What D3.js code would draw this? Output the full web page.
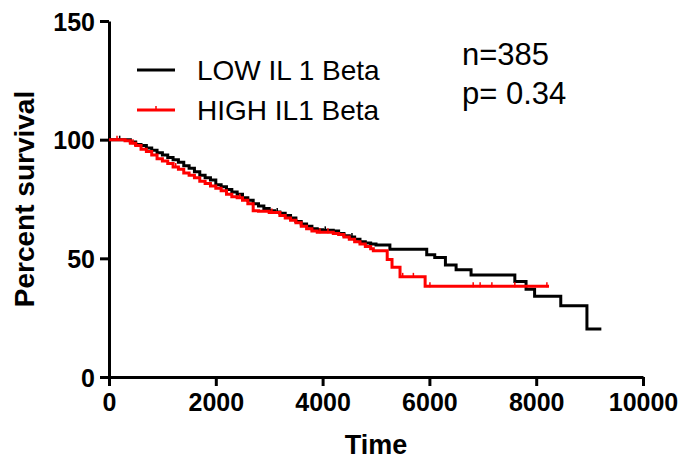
<!DOCTYPE html>
<html lang="en">
<head>
<meta charset="UTF-8">
<script src="https://d3js.org/d3.v7.min.js"></script>
<title>Kaplan-Meier IL1 Beta</title>
<style>
  body { margin: 0; background: #fff; }
  text { font-family: "Liberation Sans", Arial, sans-serif; }
</style>
</head>
<body>
<svg width="682" height="460"></svg>
<script>
    // survival curves: [time, percent]
    const lowTimes  = [0, 250, 400, 500, 600, 700, 800, 900, 1000, 1100, 1200, 1300, 1400, 1500, 1600, 1700, 1800, 1900, 2000, 2100, 2200, 2300, 2400, 2500, 2600, 2700, 2800, 2900, 3000, 3100, 3200, 3300, 3400, 3500, 3600, 3700, 3800, 3900, 4000, 4200, 4300, 4400, 4500, 4600, 4700, 4800, 4900, 5000, 5260, 5950, 6100, 6300, 6500, 6780, 7600, 7810, 7970, 8460, 8950, 9220];
    const lowValues = [100, 100, 99, 98, 97.5, 96.5, 95.5, 94.5, 93.5, 92.5, 91.5, 90.5, 89, 88, 86.5, 85, 84, 83, 81, 80.2, 79, 78, 77, 75.5, 74.5, 73, 72, 71, 70, 69.5, 69, 68, 67, 65.5, 64.5, 63.5, 62.5, 62, 61.8, 61.5, 60.5, 59.5, 59, 58, 57, 56.5, 56, 55.6, 53.8, 51.5, 50.4, 47.2, 45.2, 43, 40.2, 37, 34, 30, 20.2, 20.2];

    const highTimes  = [0, 300, 400, 500, 600, 700, 800, 900, 1000, 1100, 1200, 1300, 1400, 1500, 1600, 1700, 1800, 1900, 2000, 2100, 2200, 2300, 2400, 2500, 2600, 2700, 2800, 3000, 3200, 3300, 3400, 3500, 3600, 3700, 3800, 3900, 4200, 4300, 4400, 4500, 4600, 4700, 4800, 4900, 4950, 5210, 5300, 5450, 5920, 8240];
    const highValues = [100, 99.5, 98.5, 97.5, 96, 95, 93.5, 92, 91, 90, 88.5, 87.5, 86, 85, 84, 82.5, 81.5, 80.5, 79.5, 78.5, 77, 76, 75.5, 74.5, 73, 70, 69.8, 69.3, 68, 67, 66, 65, 63.5, 62.5, 61.5, 61, 60.5, 60, 59, 58, 57, 56, 55, 54, 53.2, 49.5, 46.2, 42.2, 38.2, 38.2];

    // censored observations (tick marks)
    const highCensor = [150, 450, 1250, 2450, 3050, 3950, 4100, 5500, 5700, 6010, 6820, 6950, 7170, 7600, 8200];
    const lowCensor  = [200, 3150, 4050, 4550];

    const xTicks = [0, 2000, 4000, 6000, 8000, 10000];
    const yTicks = [0, 50, 100, 150];
    const legendLabels = ["LOW IL 1 Beta", "HIGH IL1 Beta"];
    const notes = ["n=385", "p= 0.34"];

    const svg = d3.select("svg");

    const x = d3.scaleLinear().domain([0, 10000]).range([109, 643]);
    const y = d3.scaleLinear().domain([0, 150]).range([377, 21]);

    const low = lowTimes.map((t, i) => ({ t: t, v: lowValues[i] }));
    const high = highTimes.map((t, i) => ({ t: t, v: highValues[i] }));

    const line = d3.line()
        .x(d => x(d.t))
        .y(d => y(d.v))
        .curve(d3.curveStepAfter);

    // value of a step curve at a given time
    function stepAt(data, t) {
        let v = data[0].v;
        data.forEach(d => { if (d.t <= t) v = d.v; });
        return v;
    }

    // axes
    const xAxis = d3.axisBottom(x).tickValues(xTicks).tickFormat(d3.format("d"))
        .tickSize(9).tickSizeOuter(0).tickPadding(5);
    const yAxis = d3.axisLeft(y).tickValues(yTicks).tickFormat(d3.format("d"))
        .tickSize(9).tickSizeOuter(0).tickPadding(5);

    const gx = svg.append("g").attr("transform", "translate(0,377)").call(xAxis);
    const gy = svg.append("g").attr("transform", "translate(109,0)").call(yAxis);

    [gx, gy].forEach(g => {
        g.select(".domain").attr("stroke", "#000").attr("stroke-width", 3);
        g.selectAll(".tick line").attr("stroke", "#000").attr("stroke-width", 3);
        g.selectAll(".tick text")
            .attr("fill", "#000")
            .style("font-size", "25px")
            .style("font-weight", "bold")
            .style("font-family", "'Liberation Sans', Arial, sans-serif");
    });
    gx.selectAll(".tick text").attr("dy", "0.8em");
    gy.selectAll(".tick text").attr("dy", "0.36em");

    // curves
    const series = [
        { data: low, color: "#000000", censor: lowCensor },
        { data: high, color: "#ff0000", censor: highCensor }
    ];

    series.forEach(s => {
        svg.append("path")
            .attr("d", line(s.data))
            .attr("fill", "none")
            .attr("stroke", s.color)
            .attr("stroke-width", 3);

        svg.selectAll(null)
            .data(s.censor)
            .enter()
            .append("line")
            .attr("x1", d => x(d))
            .attr("x2", d => x(d))
            .attr("y1", d => y(stepAt(s.data, d)) - 4)
            .attr("y2", d => y(stepAt(s.data, d)) + 1)
            .attr("stroke", s.color)
            .attr("stroke-width", 1.5);
    });

    // axis titles
    svg.append("text")
        .attr("transform", "translate(34,199) rotate(-90)")
        .attr("text-anchor", "middle")
        .style("font-size", "28px")
        .style("font-weight", "bold")
        .text("Percent survival");

    svg.append("text")
        .attr("x", 376)
        .attr("y", 454)
        .attr("text-anchor", "middle")
        .style("font-size", "27px")
        .style("font-weight", "bold")
        .text("Time");

    // legend
    const legendY = [70, 110];
    legendLabels.forEach((label, i) => {
        const c = series[i].color;
        svg.append("line")
            .attr("x1", 137).attr("x2", 175)
            .attr("y1", legendY[i]).attr("y2", legendY[i])
            .attr("stroke", c).attr("stroke-width", 3);
        if (i === 1) {
            svg.append("line")
                .attr("x1", 156).attr("x2", 156)
                .attr("y1", legendY[i] - 4).attr("y2", legendY[i])
                .attr("stroke", c).attr("stroke-width", 1.5);
        }
        svg.append("text")
            .attr("x", 197)
            .attr("y", legendY[i] + 10)
            .style("font-size", "28px")
            .text(label);
    });

    // annotations
    svg.append("text").attr("x", 462).attr("y", 65).style("font-size", "31px").text(notes[0]);
    svg.append("text").attr("x", 462).attr("y", 104).style("font-size", "31px").text(notes[1]);
</script>
</body>
</html>
